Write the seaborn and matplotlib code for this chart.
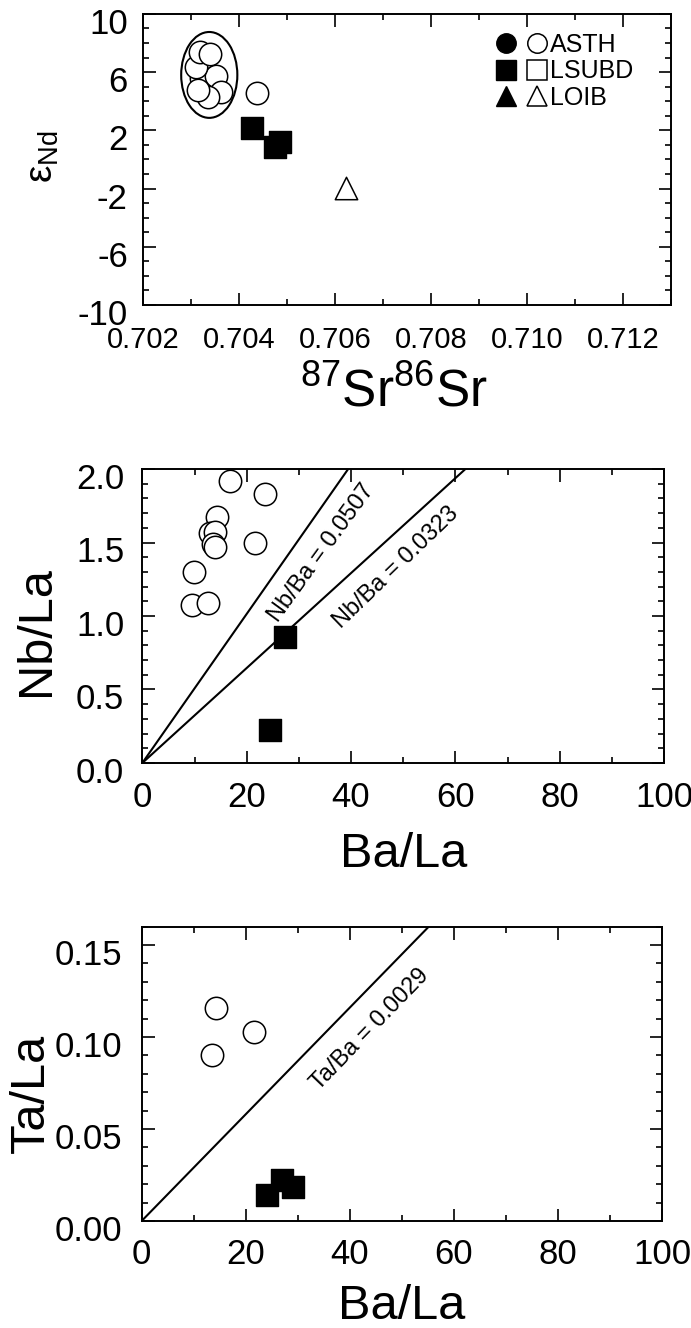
import matplotlib
matplotlib.use("Agg")
import numpy as np
import pandas as pd
import matplotlib.pyplot as plt
import seaborn as sns
from matplotlib.lines import Line2D
from matplotlib.legend_handler import HandlerTuple
from matplotlib.patches import Ellipse
from matplotlib.ticker import MultipleLocator, FormatStrFormatter
import matplotlib.transforms as mtransforms

# ---------------- data ----------------
# Panel 1: eNd vs 87Sr/86Sr
asth_sr = [0.70330, 0.70321, 0.70353, 0.70363, 0.70335, 0.70311, 0.70318, 0.70340, 0.70315, 0.70437]
asth_nd = [7.04, 5.60, 5.74, 4.64, 4.30, 6.36, 7.40, 7.25, 4.78, 4.55]
lsubd_sr = [0.70428, 0.70475, 0.70486]
lsubd_nd = [2.14, 0.86, 1.20]
loib_sr = [0.70622]
loib_nd = [-1.98]
ellipse_center = (0.70338, 5.81)
ellipse_size = (0.00117, 5.9)
legend_labels = ["ASTH", "LSUBD", "LOIB"]

# Panel 2: Nb/La vs Ba/La
asth_ba2 = [16.8, 23.5, 14.3, 12.9, 13.9, 13.6, 13.9, 21.6, 9.9, 9.6, 12.5]
asth_nb2 = [1.92, 1.83, 1.675, 1.567, 1.573, 1.49, 1.47, 1.495, 1.30, 1.075, 1.09]
lsubd_ba2 = [27.3, 24.4]
lsubd_nb2 = [0.86, 0.225]
nb_ba_ratios = [0.0507, 0.0323]
nb_ba_label_pos = [(34.4, 1.43), (48.6, 1.33)]
nb_ba_label_rot = [54, 44]

# Panel 3: Ta/La vs Ba/La
asth_ba3 = [14.2, 21.5, 13.6]
asth_ta3 = [0.116, 0.1027, 0.0905]
lsubd_ba3 = [24.1, 26.9, 29.1]
lsubd_ta3 = [0.0142, 0.0221, 0.0185]
ta_ba_ratio = 0.0029
ta_ba_label_pos = (43.9, 0.104)
ta_ba_label_rot = 46

# ---------------- style ----------------
sns.set_style("ticks")
plt.rcParams["font.family"] = ["Liberation Sans", "DejaVu Sans"]
plt.rcParams["mathtext.fontset"] = "custom"
plt.rcParams["mathtext.rm"] = "Liberation Sans"
plt.rcParams["mathtext.it"] = "Liberation Sans:italic"
plt.rcParams["mathtext.bf"] = "Liberation Sans:bold"
plt.rcParams["axes.unicode_minus"] = False
plt.rcParams["text.color"] = "black"
plt.rcParams["axes.labelcolor"] = "black"
plt.rcParams["xtick.color"] = "black"
plt.rcParams["ytick.color"] = "black"
plt.rcParams["xtick.labelcolor"] = "black"
plt.rcParams["ytick.labelcolor"] = "black"

fig = plt.figure(figsize=(6.91, 13.28), dpi=100)
ax1 = fig.add_axes([0.207, 0.7703, 0.764, 0.2192])
ax2 = fig.add_axes([0.206, 0.4255, 0.755, 0.2213])
ax3 = fig.add_axes([0.205, 0.0806, 0.753, 0.2216])

MS = 260
open_kw = dict(color="white", edgecolor="black", linewidth=1.1, s=MS, zorder=3)
fill_kw = dict(color="black", edgecolor="black", linewidth=1.0, s=MS * 0.95, marker="s", zorder=4)


def style_axes(ax, xfs, yfs, xpad, ypad):
    for sp in ax.spines.values():
        sp.set_visible(True)
        sp.set_linewidth(1.4)
        sp.set_color("black")
    ax.tick_params(which="both", direction="in", top=True, right=True,
                   width=1.2, colors="black", labelcolor="black")
    ax.tick_params(which="major", length=9)
    ax.tick_params(which="minor", length=4.5)
    ax.tick_params(axis="x", labelsize=xfs, pad=xpad)
    ax.tick_params(axis="y", labelsize=yfs, pad=ypad)
    off = mtransforms.ScaledTranslation(0, -5 / 72, fig.dpi_scale_trans)
    for lab in ax.get_yticklabels():
        lab.set_transform(lab.get_transform() + off)


# ---------------- panel 1 ----------------
ax1.add_patch(Ellipse(ellipse_center, ellipse_size[0], ellipse_size[1],
                      fill=False, edgecolor="black", linewidth=1.5, zorder=2))
sns.scatterplot(x=asth_sr, y=asth_nd, marker="o", ax=ax1, **open_kw)
sns.scatterplot(x=lsubd_sr, y=lsubd_nd, ax=ax1, **fill_kw)
sns.scatterplot(x=loib_sr, y=loib_nd, marker="^", ax=ax1,
                color="white", edgecolor="black", linewidth=1.1, s=MS, zorder=3)
ax1.set_xlim(0.702, 0.713)
ax1.set_ylim(-10, 10)
ax1.xaxis.set_major_locator(MultipleLocator(0.002))
ax1.xaxis.set_minor_locator(MultipleLocator(0.001))
ax1.xaxis.set_major_formatter(FormatStrFormatter("%.3f"))
ax1.set_yticks([-10, -6, -2, 2, 6, 10])
ax1.yaxis.set_minor_locator(MultipleLocator(1))
ax1.yaxis.set_major_formatter(FormatStrFormatter("%d"))
style_axes(ax1, 21, 25, 15, 11)
ax1.set_xlabel(r"$^{87}$Sr$^{86}$Sr", fontsize=37, color="black")
ax1.xaxis.set_label_coords(0.475, -0.30)
ax1.xaxis.label.set_va("center")
ax1.set_ylabel(r"ε$_{\mathrm{Nd}}$", fontsize=28, color="black")
ax1.yaxis.set_label_coords(-0.19, 0.51)
ax1.yaxis.label.set_va("center")

mk = 14
handles = [
    (Line2D([], [], marker="o", ls="", mfc="black", mec="black", ms=mk),
     Line2D([], [], marker="o", ls="", mfc="white", mec="black", ms=mk, mew=1.1)),
    (Line2D([], [], marker="s", ls="", mfc="black", mec="black", ms=mk),
     Line2D([], [], marker="s", ls="", mfc="white", mec="black", ms=mk, mew=1.1)),
    (Line2D([], [], marker="^", ls="", mfc="black", mec="black", ms=mk),
     Line2D([], [], marker="^", ls="", mfc="white", mec="black", ms=mk, mew=1.1)),
]
leg = ax1.legend(handles, legend_labels, handler_map={tuple: HandlerTuple(ndivide=None, pad=0.3)},
                 loc="upper left", bbox_to_anchor=(0.665, 0.935), frameon=False,
                 borderaxespad=0, fontsize=18, handlelength=2.2, handletextpad=0.05,
                 labelspacing=0.1, borderpad=0)
for t in leg.get_texts():
    t.set_color("black")

# ---------------- panel 2 ----------------
ax2.set_xlim(0, 100)
ax2.set_ylim(0, 2.0)
for r in nb_ba_ratios:
    xe = 2.0 / r
    ax2.plot([0, xe], [0, r * xe], color="black", linewidth=1.5, zorder=2)
for r, pos, rot in zip(nb_ba_ratios, nb_ba_label_pos, nb_ba_label_rot):
    ax2.text(pos[0], pos[1], f"Nb/Ba = {r}", rotation=rot, fontsize=17, color="black",
             ha="center", va="center", rotation_mode="anchor")
sns.scatterplot(x=asth_ba2, y=asth_nb2, marker="o", ax=ax2, **open_kw)
sns.scatterplot(x=lsubd_ba2, y=lsubd_nb2, ax=ax2, **fill_kw)
ax2.xaxis.set_major_locator(MultipleLocator(20))
ax2.xaxis.set_minor_locator(MultipleLocator(10))
ax2.xaxis.set_major_formatter(FormatStrFormatter("%d"))
ax2.yaxis.set_major_locator(MultipleLocator(0.5))
ax2.yaxis.set_minor_locator(MultipleLocator(0.1))
ax2.yaxis.set_major_formatter(FormatStrFormatter("%.1f"))
style_axes(ax2, 25, 25, 13, 13)
ax2.set_xlabel("Ba/La", fontsize=35, color="black")
ax2.xaxis.set_label_coords(0.5, -0.313)
ax2.xaxis.label.set_va("center")
ax2.set_ylabel("Nb/La", fontsize=35, color="black")
ax2.yaxis.set_label_coords(-0.203, 0.45)
ax2.yaxis.label.set_va("center")

# ---------------- panel 3 ----------------
ax3.set_xlim(0, 100)
ax3.set_ylim(0, 0.16)
xe = 0.16 / ta_ba_ratio
ax3.plot([0, xe], [0, ta_ba_ratio * xe], color="black", linewidth=1.5, zorder=2)
ax3.text(ta_ba_label_pos[0], ta_ba_label_pos[1], f"Ta/Ba = {ta_ba_ratio}",
         rotation=ta_ba_label_rot, fontsize=17, color="black", ha="center", va="center",
         rotation_mode="anchor")
sns.scatterplot(x=asth_ba3, y=asth_ta3, marker="o", ax=ax3, **open_kw)
sns.scatterplot(x=lsubd_ba3, y=lsubd_ta3, ax=ax3, **fill_kw)
ax3.xaxis.set_major_locator(MultipleLocator(20))
ax3.xaxis.set_minor_locator(MultipleLocator(10))
ax3.xaxis.set_major_formatter(FormatStrFormatter("%d"))
ax3.yaxis.set_major_locator(MultipleLocator(0.05))
ax3.yaxis.set_minor_locator(MultipleLocator(0.01))
ax3.yaxis.set_major_formatter(FormatStrFormatter("%.2f"))
style_axes(ax3, 25, 25, 12, 14)
ax3.set_xlabel("Ba/La", fontsize=35, color="black")
ax3.xaxis.set_label_coords(0.5, -0.292)
ax3.xaxis.label.set_va("center")
ax3.set_ylabel("Ta/La", fontsize=35, color="black")
ax3.yaxis.set_label_coords(-0.212, 0.435)
ax3.yaxis.label.set_va("center")

fig.savefig("out.png", dpi=100)
